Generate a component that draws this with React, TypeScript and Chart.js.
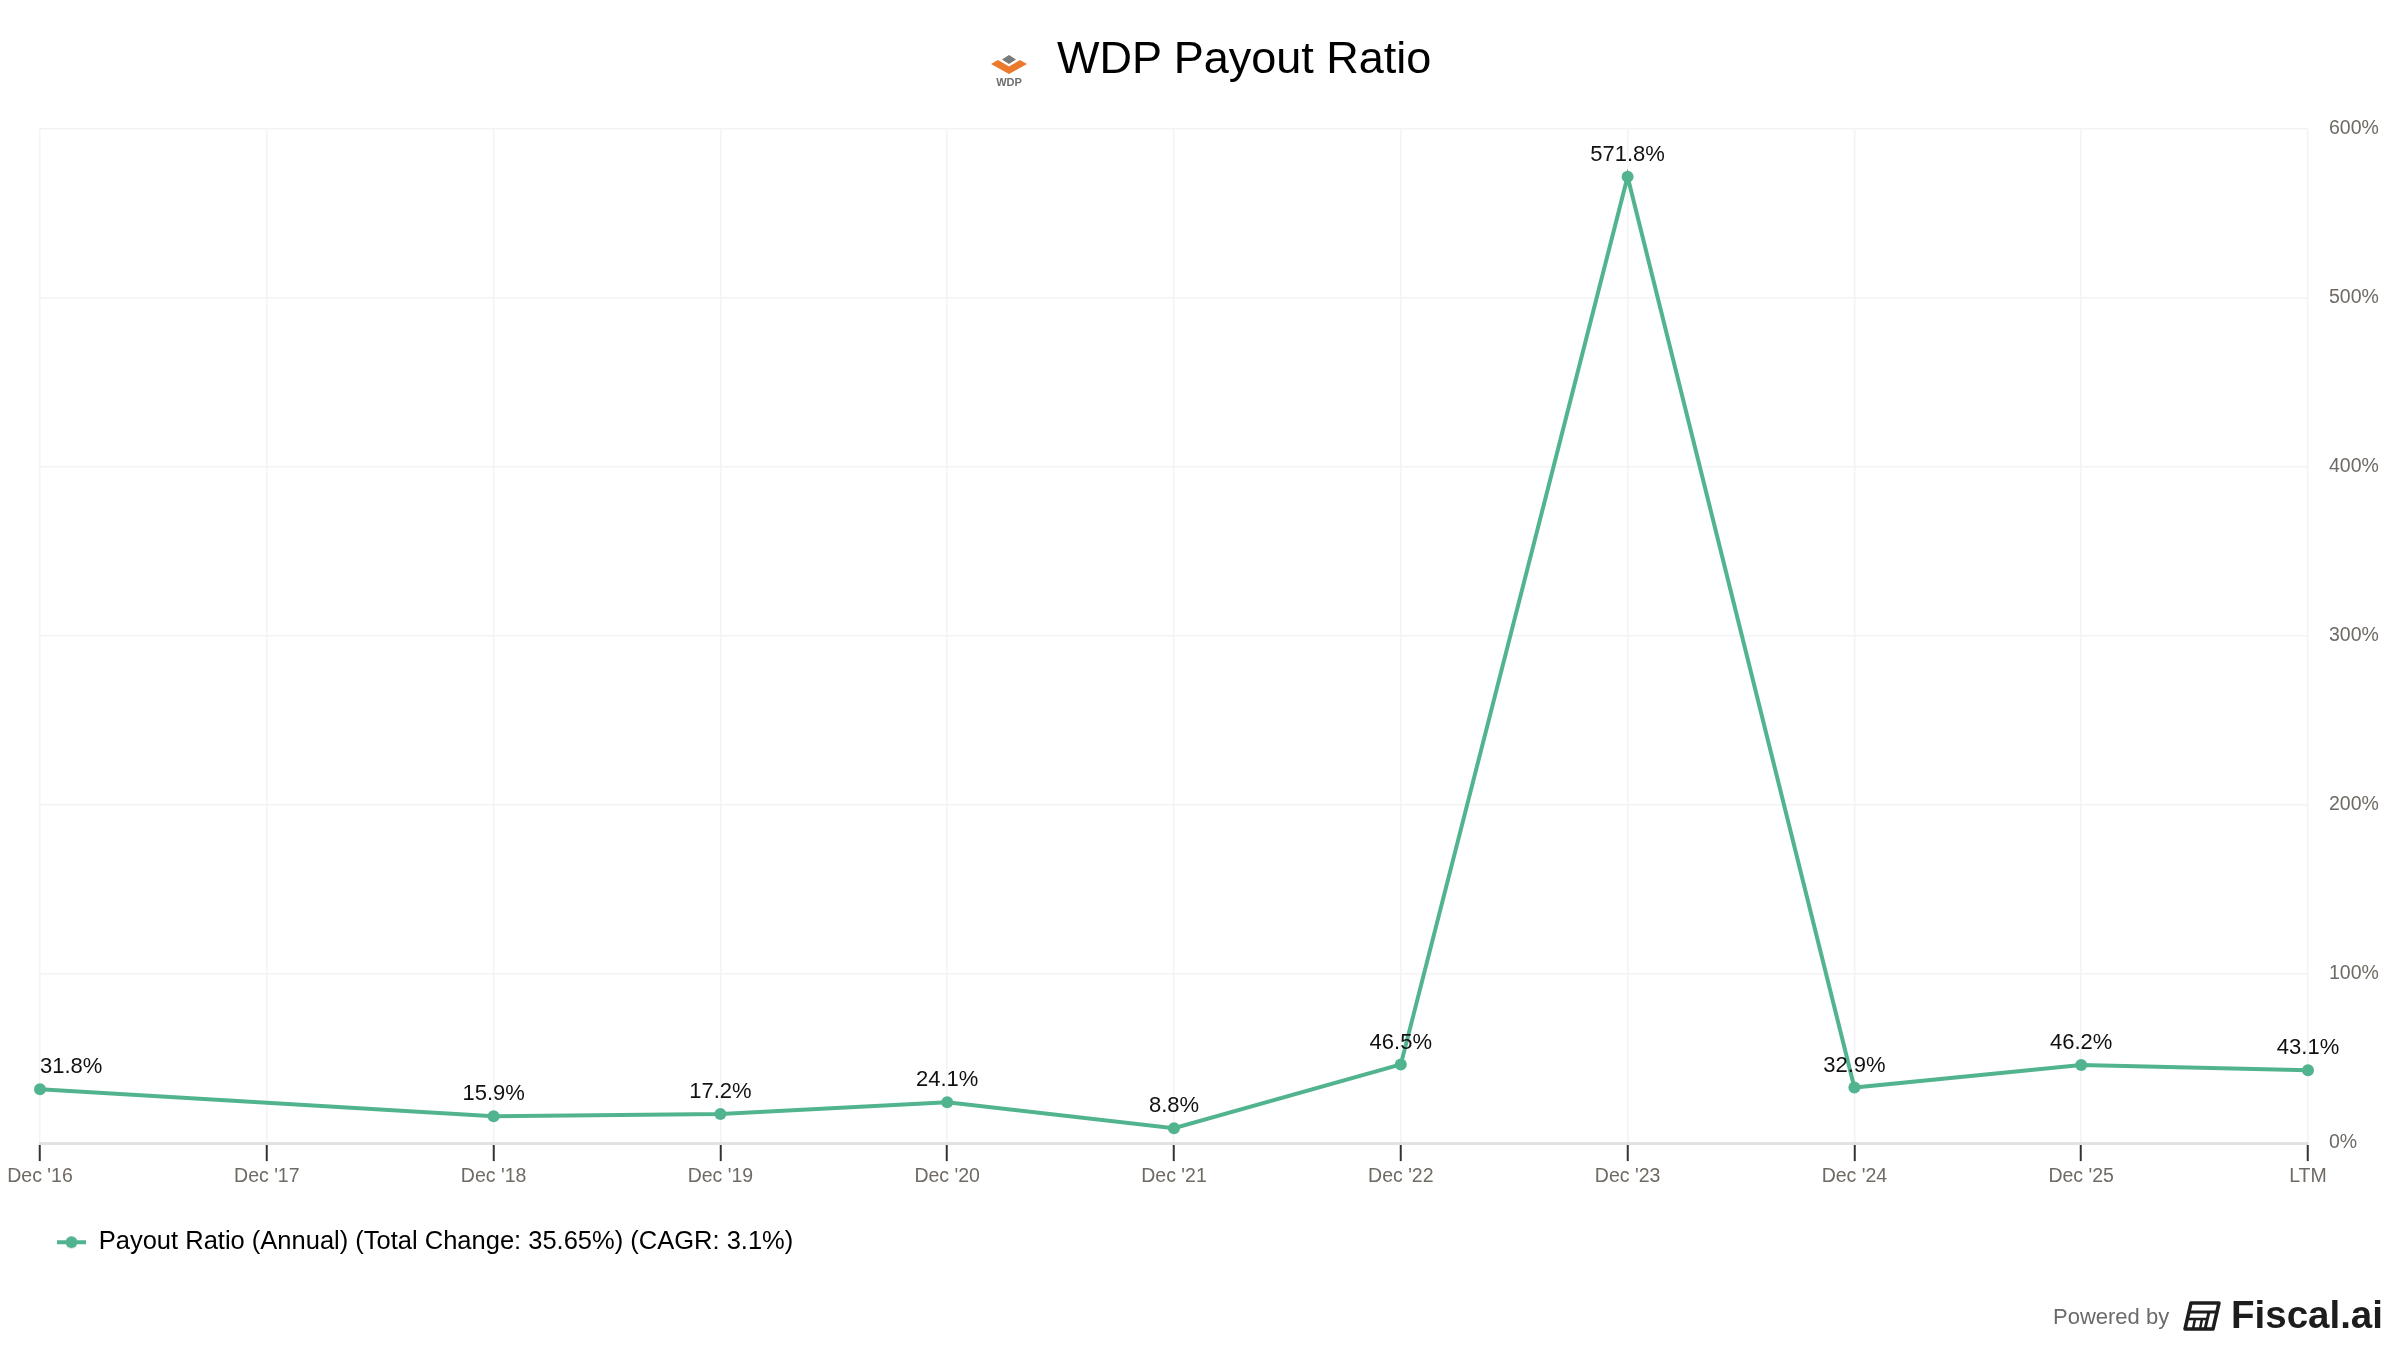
import React, { useEffect, useRef } from "react";
import { Chart, registerables } from "chart.js";

Chart.register(...registerables);

const chartTitle = "WDP Payout Ratio";
const categories = ["Dec '16", "Dec '17", "Dec '18", "Dec '19", "Dec '20", "Dec '21", "Dec '22", "Dec '23", "Dec '24", "Dec '25", "LTM"];
const payoutRatio: (number | null)[] = [31.8, null, 15.9, 17.2, 24.1, 8.8, 46.5, 571.8, 32.9, 46.2, 43.1];
const seriesLabel = "Payout Ratio (Annual) (Total Change: 35.65%) (CAGR: 3.1%)";
const yMin = 0;
const yMax = 600;
const yStep = 100;

const LINE_COLOR = "#52b48f";
const FONT = "'Liberation Sans', Arial, Helvetica, sans-serif";

function makeLegendMarker(): HTMLCanvasElement {
  const c = document.createElement("canvas");
  c.width = 29;
  c.height = 14;
  const ctx = c.getContext("2d")!;
  ctx.strokeStyle = LINE_COLOR;
  ctx.lineWidth = 4;
  ctx.beginPath();
  ctx.moveTo(0, 7);
  ctx.lineTo(29, 7);
  ctx.stroke();
  ctx.fillStyle = LINE_COLOR;
  ctx.beginPath();
  ctx.arc(14.5, 7, 6, 0, Math.PI * 2);
  ctx.fill();
  return c;
}

const dataLabelPlugin = {
  id: "pointValueLabels",
  afterDatasetsDraw(chart: any) {
    const ctx = chart.ctx;
    const meta = chart.getDatasetMeta(0);
    const values = chart.data.datasets[0].data;
    ctx.save();
    ctx.font = `22px ${FONT}`;
    ctx.fillStyle = "#111111";
    ctx.textBaseline = "bottom";
    meta.data.forEach((pt: any, i: number) => {
      const v = values[i];
      if (v === null || v === undefined) return;
      const text = `${Number(v).toFixed(1)}%`;
      const w = ctx.measureText(text).width;
      const x = pt.x;
      ctx.textAlign = x - w / 2 < chart.chartArea.left ? "left" : "center";
      ctx.fillText(text, x, pt.y - 11);
    });
    ctx.restore();
  },
};

export default function App() {
  const canvasRef = useRef<HTMLCanvasElement | null>(null);

  useEffect(() => {
    if (!canvasRef.current) return;
    const marker = makeLegendMarker();
    const chart = new Chart(canvasRef.current, {
      type: "line",
      data: {
        labels: categories,
        datasets: [
          {
            label: seriesLabel,
            data: payoutRatio,
            borderColor: LINE_COLOR,
            backgroundColor: LINE_COLOR,
            borderWidth: 4,
            pointRadius: 6,
            pointBorderWidth: 0,
            pointBackgroundColor: LINE_COLOR,
            pointStyle: "circle",
            tension: 0,
            spanGaps: true,
          },
        ],
      },
      options: {
        animation: false,
        responsive: false,
        maintainAspectRatio: false,
        devicePixelRatio: 1,
        layout: { padding: { top: 129, left: 40, right: 20, bottom: 85 } },
        plugins: {
          title: { display: false },
          tooltip: { enabled: false },
          legend: {
            display: true,
            position: "bottom",
            align: "start",
            labels: {
              usePointStyle: true,
              pointStyle: marker as any,
              pointStyleWidth: 29,
              padding: 17,
              color: "#111111",
              font: { family: FONT, size: 25.5 },
              generateLabels: () => [
                {
                  text: seriesLabel,
                  pointStyle: marker as any,
                  fillStyle: LINE_COLOR,
                  strokeStyle: LINE_COLOR,
                  lineWidth: 0,
                  hidden: false,
                  datasetIndex: 0,
                } as any,
              ],
            },
          },
        },
        scales: {
          x: {
            offset: false,
            grid: {
              display: true,
              color: "#f3f3f3",
              lineWidth: 1.5,
              drawTicks: true,
              tickLength: 18,
              tickColor: "#333333",
              tickWidth: 2,
            },
            border: { display: true, color: "#e2e2e2", width: 3 },
            ticks: {
              color: "#6f6a64",
              font: { family: FONT, size: 19.5 },
              padding: 4,
              maxRotation: 0,
              autoSkip: false,
            },
            afterFit: (scale: any) => {
              scale.height += 20;
            },
          },
          y: {
            position: "right",
            min: yMin,
            max: yMax,
            grid: {
              color: "#f3f3f3",
              lineWidth: 1.5,
              drawTicks: false,
            },
            border: { display: false },
            ticks: {
              stepSize: yStep,
              color: "#6f6a64",
              font: { family: FONT, size: 19.5 },
              padding: 21,
              callback: (v: any) => `${v}%`,
            },
            afterFit: (scale: any) => {
              scale.width = 72;
            },
          },
        },
      },
      plugins: [dataLabelPlugin],
    });
    return () => chart.destroy();
  }, []);

  return (
    <div
      style={{
        position: "absolute",
        left: 0,
        top: 0,
        width: 2400,
        height: 1350,
        background: "#ffffff",
        overflow: "hidden",
        fontFamily: FONT,
      }}
    >
      <canvas
        ref={canvasRef}
        width={2400}
        height={1350}
        style={{ position: "absolute", left: 0, top: 0, width: 2400, height: 1350 }}
      />
      <svg
        width={42}
        height={36}
        viewBox="0 0 42 36"
        style={{ position: "absolute", left: 988, top: 53 }}
      >
        <polygon points="21,2 28,6.5 21,11 14,6.5" fill="#7a7a7a" />
        <polygon points="3,11 10,7 21,13.5 32,7 39,11 21,21" fill="#ec7a2c" />
        <text x="21" y="33" textAnchor="middle" fontFamily={FONT} fontWeight="bold" fontSize="11" fill="#6e6e6e">
          WDP
        </text>
      </svg>
      <div
        style={{
          position: "absolute",
          left: 1057,
          top: 34,
          fontSize: 45,
          lineHeight: "48px",
          color: "#000000",
          whiteSpace: "nowrap",
        }}
      >
        {chartTitle}
      </div>
      <div
        style={{
          position: "absolute",
          left: 2053,
          top: 1303,
          fontSize: 22,
          lineHeight: "28px",
          color: "#6b6b6b",
          whiteSpace: "nowrap",
        }}
      >
        Powered by
      </div>
      <svg
        width={38}
        height={32}
        viewBox="0 0 38 32"
        style={{ position: "absolute", left: 2183, top: 1300 }}
      >
        <path d="M8 3 L36 3 L30 29 L2 29 Z" fill="none" stroke="#1d1d1d" strokeWidth="3.5" strokeLinejoin="round" />
        <line x1="6" y1="12" x2="33" y2="12" stroke="#1d1d1d" strokeWidth="3" />
        <line x1="5" y1="19" x2="24" y2="19" stroke="#1d1d1d" strokeWidth="2.5" />
        <line x1="12" y1="19" x2="10" y2="29" stroke="#1d1d1d" strokeWidth="2.5" />
        <line x1="19" y1="19" x2="17" y2="29" stroke="#1d1d1d" strokeWidth="2.5" />
        <line x1="26" y1="12" x2="22" y2="29" stroke="#1d1d1d" strokeWidth="3" />
      </svg>
      <div
        style={{
          position: "absolute",
          left: 2231,
          top: 1293,
          fontSize: 38.5,
          lineHeight: "44px",
          fontWeight: "bold",
          color: "#1d1d1d",
          whiteSpace: "nowrap",
        }}
      >
        Fiscal.ai
      </div>
    </div>
  );
}
